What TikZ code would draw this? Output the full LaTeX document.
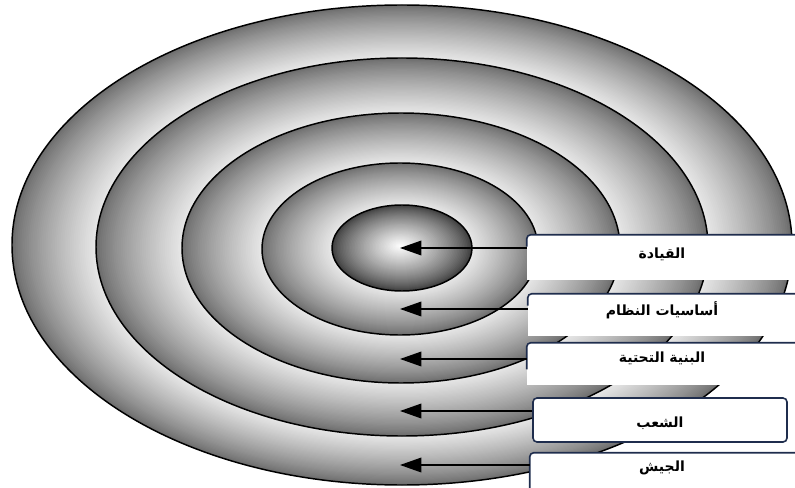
\documentclass[tikz,border=0pt]{standalone}
\usepackage{fontspec}
\usetikzlibrary{arrows.meta,fit}
\TeXXeTstate=1
\newfontfamily\arabicfont[Script=Arabic]{DejaVu Sans}
\definecolor{navy}{RGB}{31,45,77}
\tikzset{
  ring/.style={draw=black,line width=1.1pt},
  boxfill/.style={fill=white,inner sep=0pt,draw=none},
  boxline/.style={draw=navy,line width=1.2pt,rounded corners=3pt},
  arr/.style={line width=1pt,-{Triangle[length=16pt,width=11pt]}},
  lab/.style={font=\arabicfont\bfseries\fontsize{10.5}{12}\selectfont,text=black,inner sep=0pt}
}
\begin{document}
\begin{tikzpicture}[x=0.75pt,y=-0.75pt]
\useasboundingbox (0,0) rectangle (795,488);
\begin{scope}
\clip (0,0) rectangle (795,488);
% shaded bands: cx/cy/rx/ry of outer, then inner ellipse
\foreach \cx/\cy/\rx/\ry/\ix/\iy/\irx/\iry/\pa/\pb in {
  402/245/390/240/402/247/306/189/58/9,
  402/247/306/189/401/248/219/135/58/9,
  401/248/219/135/400/249/138/86/58/9,
  400/249/138/86/402/248/70/43/58/9,
  402/248/70/43/400/246/0/0/76/0}{
  \foreach \i in {0,...,44}{
    \pgfmathsetmacro\t{\i/45}
    \pgfmathsetmacro\ex{\cx+(\ix-\cx)*\t}
    \pgfmathsetmacro\ey{\cy+(\iy-\cy)*\t}
    \pgfmathsetmacro\ea{\rx+(\irx-\rx)*\t}
    \pgfmathsetmacro\eb{\ry+(\iry-\ry)*\t}
    \pgfmathsetmacro\p{\pa+(\pb-\pa)*(\t)^0.8}
    \fill[black!\p] (\ex,\ey) ellipse [x radius=\ea, y radius=\eb];
  }
}
\draw[ring] (402,245) ellipse [x radius=390, y radius=240];
\draw[ring] (402,247) ellipse [x radius=306, y radius=189];
\draw[ring] (401,248) ellipse [x radius=219, y radius=135];
\draw[ring] (400,249) ellipse [x radius=138, y radius=86];
\draw[ring] (402,248) ellipse [x radius=70, y radius=43];

% label boxes
\node[boxfill,fit={(527,235) (797,280)}] (b1) {};
\draw[boxline] ([yshift=-9pt]b1.north west) -- (b1.north west) -- (b1.north east);
\node[boxfill,fit={(528,294) (797,336)}] (b2) {};
\draw[boxline] ([yshift=-9pt]b2.north west) -- (b2.north west) -- (b2.north east);
\node[boxfill,fit={(527,343) (797,385)}] (b3) {};
\draw[boxline] ([yshift=-20pt]b3.north west) -- (b3.north west) -- (b3.north east);
\node[boxfill,fit={(533,398) (787,442)},draw=navy,line width=1.2pt,rounded corners=3pt] (b4) {};
\node[boxfill,fit={(530,453) (797,495)}] (b5) {};
\draw[boxline] (b5.south west) -- (b5.north west) -- (b5.north east);

\node[lab] (l1) at (662,254) {\beginR القيادة\endR};
\node[lab] (l2) at (662,310) {\beginR أساسيات النظام\endR};
\node[lab] (l3) at (662,358) {\beginR البنية التحتية\endR};
\node[lab] (l4) at (660,423) {\beginR الشعب\endR};
\node[lab] (l5) at (662,468) {\beginR الجيش\endR};

% arrows
\coordinate (t1) at (400,248);
\coordinate (t2) at (400,309);
\coordinate (t3) at (400,359);
\coordinate (t4) at (400,411);
\coordinate (t5) at (400,465);
\draw[arr] (t1 -| b1.west) -- (t1);
\draw[arr] (t2 -| b2.west) -- (t2);
\draw[arr] (t3 -| b3.west) -- (t3);
\draw[arr] (t4 -| b4.west) -- (t4);
\draw[arr] (t5 -| b5.west) -- (t5);
\end{scope}
\end{tikzpicture}
\end{document}
